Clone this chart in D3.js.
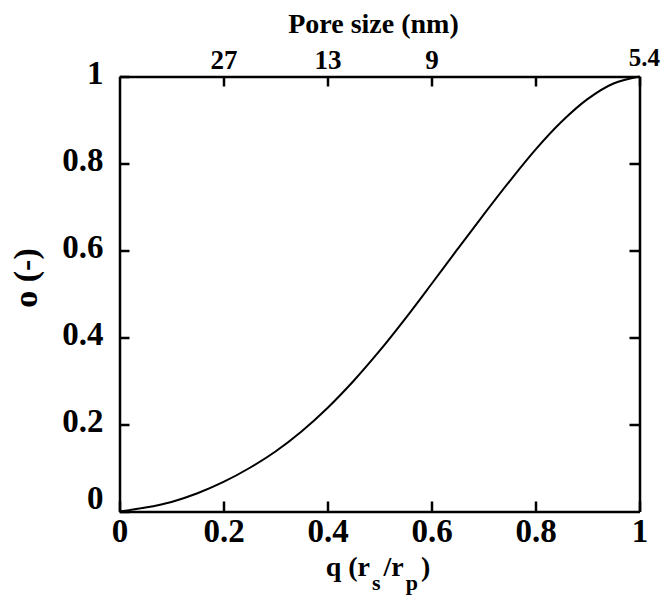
<!DOCTYPE html>
<html>
<head>
<meta charset="utf-8">
<script src="https://cdn.jsdelivr.net/npm/d3@7"></script>
<style>
  body { margin: 0; background: #fff; }
  text { font-family: "Liberation Serif", "Times New Roman", serif; font-weight: bold; fill: #000; }
</style>
</head>
<body>
<div id="chart"></div>
<script>
// values
var qValues = [0, 0.05, 0.1, 0.15, 0.2, 0.25, 0.3, 0.35, 0.4, 0.45, 0.5,
               0.55, 0.6, 0.65, 0.7, 0.75, 0.8, 0.85, 0.9, 0.95, 1];
var sigmaValues = [0, 0.009, 0.022, 0.042, 0.068, 0.100, 0.138, 0.184, 0.238, 0.300, 0.369,
                   0.444, 0.523, 0.603, 0.682, 0.759, 0.832, 0.896, 0.948, 0.984, 1];

var xTicks = [0, 0.2, 0.4, 0.6, 0.8, 1];
var yTicks = [0, 0.2, 0.4, 0.6, 0.8, 1];
var topTicks = [0.2, 0.4, 0.6, 0.8, 1];
var poreLabels = ["27", "13", "9", "", "5.4"];

var svgWidth = 661;
var svgHeight = 595;
var margin = { top: 76.5, left: 119.5 };
var width = 520;
var height = 435;

var svg = d3.select("#chart").append("svg")
  .attr("width", svgWidth)
  .attr("height", svgHeight);

var chartGroup = svg.append("g")
  .attr("transform", `translate(${margin.left}, ${margin.top})`);

var x = d3.scaleLinear().domain([0, 1]).range([0, width]);
var y = d3.scaleLinear().domain([0, 1]).range([height, 0]);

var fmt = function(d) { return d === 0 || d === 1 ? String(d) : d.toFixed(1); };

// bottom axis
var bottomAxis = chartGroup.append("g")
  .attr("transform", `translate(0, ${height})`)
  .call(d3.axisBottom(x).tickValues(xTicks).tickFormat(fmt).tickSize(-10).tickSizeOuter(0));
bottomAxis.selectAll("text")
  .attr("y", 30).attr("dy", 0)
  .style("font-size", "33px");

// left axis
var leftAxis = chartGroup.append("g")
  .call(d3.axisLeft(y).tickValues(yTicks).tickFormat(fmt).tickSize(-10).tickSizeOuter(0).tickPadding(16));
leftAxis.selectAll("text")
  .attr("dy", function(d) { return d === 0 ? "-3px" : "7px"; })
  .style("font-size", "33px");

// top axis with pore size labels
var topAxis = chartGroup.append("g")
  .call(d3.axisTop(x).tickValues(topTicks)
    .tickFormat(function(d, i) { return poreLabels[i]; })
    .tickSize(-10).tickSizeOuter(0).tickPadding(8));
topAxis.selectAll("text")
  .style("font-size", "27px");
topAxis.selectAll("text").filter(function(d) { return d === 1; })
  .attr("text-anchor", "end")
  .attr("x", 20)
  .attr("dy", "-3px")
  .style("font-size", "25px");

// right axis, ticks only
chartGroup.append("g")
  .attr("transform", `translate(${width}, 0)`)
  .call(d3.axisRight(y).tickValues(yTicks.slice(1, 5)).tickFormat("").tickSize(-10).tickSizeOuter(0));

chartGroup.selectAll(".domain, .tick line")
  .attr("stroke", "#000")
  .attr("stroke-width", 2.5);
chartGroup.selectAll(".tick text").attr("font-family", null);

// curve
var points = qValues.map(function(q, i) { return [q, sigmaValues[i]]; });
var line = d3.line()
  .x(function(d) { return x(d[0]); })
  .y(function(d) { return y(d[1]); })
  .curve(d3.curveCatmullRom);

chartGroup.append("path")
  .datum(points)
  .attr("fill", "none")
  .attr("stroke", "#000")
  .attr("stroke-width", 2)
  .attr("d", line);

// titles
svg.append("text")
  .attr("x", 373.5)
  .attr("y", 33)
  .attr("text-anchor", "middle")
  .style("font-size", "28px")
  .text("Pore size (nm)");

var xTitle = svg.append("text")
  .attr("x", 378)
  .attr("y", 576)
  .attr("text-anchor", "middle")
  .style("font-size", "28px");
xTitle.append("tspan").text("q (r");
xTitle.append("tspan").attr("dy", 14).attr("dx", 2).style("font-size", "22px").text("s");
xTitle.append("tspan").attr("dy", -14).attr("dx", 3).text("/r");
xTitle.append("tspan").attr("dy", 14).attr("dx", 2).style("font-size", "22px").text("p");
xTitle.append("tspan").attr("dy", -14).attr("dx", 3).text(")");

svg.append("text")
  .attr("transform", "translate(37, 278) rotate(-90)")
  .attr("text-anchor", "middle")
  .style("font-size", "34px")
  .text("o (-)");
</script>
</body>
</html>
